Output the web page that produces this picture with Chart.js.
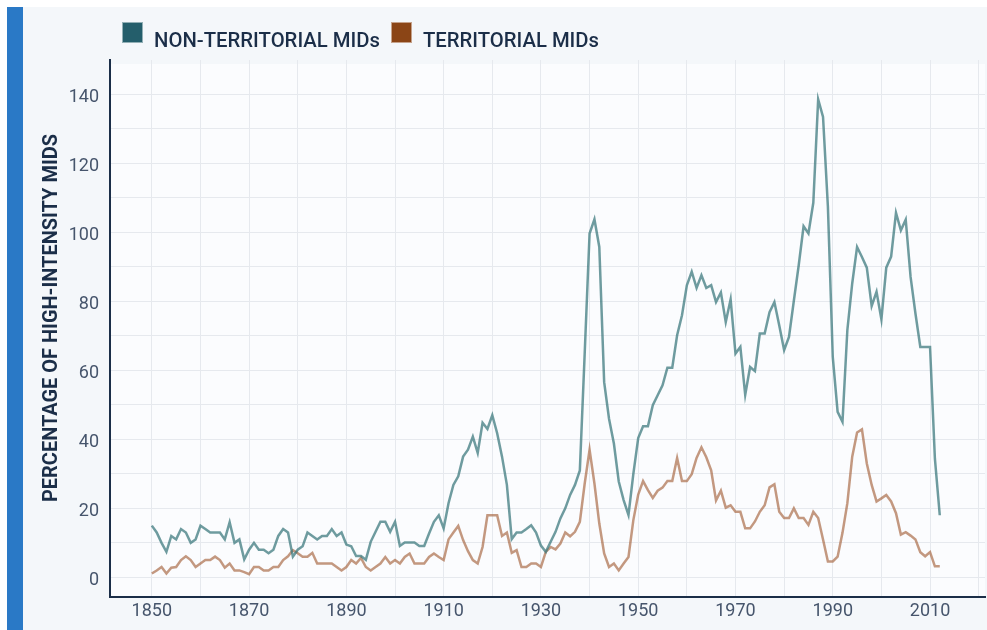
<!DOCTYPE html>
<html><head><meta charset="utf-8">
<style>html,body{margin:0;padding:0;background:#fff}canvas{display:block}</style>
<script src="https://cdn.jsdelivr.net/npm/chart.js@4"></script>
</head><body>
<canvas id="c" width="987" height="630"></canvas>
<script>
// Years 1850..2012 (one value per year)
const startYear = 1850;
const seriesLabels = ['NON-TERRITORIAL MIDs', 'TERRITORIAL MIDs'];
const nonTerritorial = [
  15, 13, 10, 7.4, 12, 11, 14, 13, 10, 11,            // 1850s
  15, 14, 13, 13, 13, 11, 16, 10, 11, 5.2,            // 1860s
  8, 10, 8, 8, 7, 8, 12, 14, 13, 6,                   // 1870s
  8, 9, 13, 12, 11, 12, 12, 14, 12, 13,               // 1880s
  9.5, 9, 6.2, 6.2, 5.1, 10.3, 13.2, 16.1, 16.1, 13.2, // 1890s
  16.1, 9.1, 10.1, 10.1, 10.1, 9.1, 9.1, 12.7, 16.1, 18, // 1900s
  14.2, 21.5, 26.8, 29.3, 35, 37, 40.8, 36.1, 44.8, 43, // 1910s
  47, 41.8, 35, 26.8, 11.1, 13, 13, 14, 15.1, 13,      // 1920s
  9.2, 7.4, 10.3, 13.2, 17.1, 20, 23.9, 26.8, 31, 65,  // 1930s
  99.7, 103.8, 95.8, 56.6, 46, 38.8, 27.8, 22.4, 18.1, 30, // 1940s
  40.4, 43.8, 43.8, 49.9, 52.8, 55.7, 60.8, 60.8, 70.2, 76, // 1950s
  84.7, 88.6, 83.9, 87.6, 83.9, 84.7, 79.8, 82.6, 74, 80.6, // 1960s
  64.9, 66.8, 52.9, 61, 59.8, 70.7, 70.7, 76.9, 79.8, 73, // 1970s
  65.9, 69.7, 80.2, 90.5, 101.8, 99.7, 108.6, 138.6, 133.5, 107.5, // 1980s
  63.9, 48, 45.1, 71.7, 85.2, 95.8, 92.9, 89.8, 78.7, 82.8, // 1990s
  74.8, 89.8, 93, 105.7, 100.6, 103.7, 87.1, 76.5, 66.8, 66.8, // 2000s
  66.8, 34.4, 18                                       // 2010-2012
];
const territorial = [
  1.1, 2, 3, 1.1, 2.8, 3, 5, 6.1, 5, 3,
  4, 5, 5, 6, 5, 2.8, 4, 2, 2, 1.5,
  0.9, 3, 3, 2, 2, 3, 3, 5, 6.1, 7.9,
  7, 6, 6, 7.1, 4, 4, 4, 4, 3, 2,
  3, 5, 4, 5.6, 3, 2, 3, 4, 5.9, 4,
  5, 4, 5.9, 6.9, 4, 4, 4, 5.9, 6.9, 5.9,
  5, 11, 13, 14.9, 10.8, 7.6, 5, 4, 8.8, 18,
  18, 18, 12, 13, 7.1, 7.9, 3, 3, 4, 4,
  3, 7.4, 8.8, 8.1, 9.8, 13, 11.9, 13.2, 16.1, 27.2,
  37, 27.2, 15.6, 6.9, 3, 4, 2, 4, 5.9, 16.6,
  24, 27.9, 25.3, 23, 25.1, 26, 27.9, 27.9, 34.6, 27.9,
  27.9, 29.9, 34.6, 37.7, 34.8, 31, 22.3, 25.1, 20.2, 20.9,
  19, 19, 14.2, 14.2, 16.2, 19, 20.9, 26.1, 27, 19,
  17.2, 17.2, 20, 17.2, 17.2, 15.2, 19, 17.2, 11, 4.6,
  4.6, 6, 12.9, 21.5, 35, 42, 42.9, 33, 26.8, 22,
  22.9, 23.9, 22, 18.6, 12.4, 13.1, 12.1, 11, 7.3, 6.1,
  7.3, 3.2, 3.2
];
const xGridYears = [1850,1860,1870,1880,1890,1900,1910,1920,1930,1940,1950,1960,1970,1980,1990,2000,2010,2020];
const xLabelYears = [1850,1870,1890,1910,1930,1950,1970,1990,2010];
const yGridValues = [0,10,20,30,40,50,60,70,80,90,100,110,120,130,140];
const yLabelValues = [0,20,40,60,80,100,120,140];
const yTitle = 'PERCENTAGE OF HIGH-INTENSITY MIDS';

const years = nonTerritorial.map((_, i) => startYear + i);
const toPoints = arr => arr.map((v, i) => ({x: years[i], y: v}));

const NAVY = '#1b2e48';
const TICK = '#46556c';

const bgPlugin = {
  id: 'bg',
  beforeDraw(chart) {
    const {ctx, chartArea: a} = chart;
    ctx.save();
    ctx.fillStyle = '#ffffff';
    ctx.fillRect(0, 0, chart.width, chart.height);
    ctx.fillStyle = '#f4f7fa';
    ctx.fillRect(7, 7, chart.width - 7, chart.height - 7);
    ctx.fillStyle = '#2a79c6';
    ctx.fillRect(7, 7, 16, chart.height - 7);
    ctx.fillStyle = '#fbfcfe';
    ctx.fillRect(a.left, a.top + 4, a.right - a.left, a.bottom - a.top - 4);
    ctx.restore();
  }
};

const textPlugin = {
  id: 'customText',
  afterDraw(chart) {
    const {ctx} = chart;
    const items = [
      {x: 122, color: '#245e6b', text: seriesLabels[0], w: 226},
      {x: 391, color: '#8b4516', text: seriesLabels[1], w: 176}
    ];
    ctx.save();
    items.forEach(it => {
      ctx.fillStyle = it.color;
      ctx.fillRect(it.x, 22, 21, 21);
      ctx.strokeStyle = 'rgba(255,255,255,0.5)';
      ctx.lineWidth = 1;
      ctx.strokeRect(it.x + 0.5, 22.5, 20, 20);
      ctx.font = '500 20px Roboto';
      ctx.fillStyle = NAVY;
      ctx.textBaseline = 'alphabetic';
      const mw = ctx.measureText(it.text).width;
      ctx.save();
      ctx.translate(it.x + 32, 47);
      ctx.scale(it.w / mw, 1);
      ctx.fillText(it.text, 0, 0);
      ctx.restore();
    });
    // y-axis title
    ctx.font = 'bold 20px Roboto';
    ctx.fillStyle = NAVY;
    ctx.textAlign = 'center';
    ctx.textBaseline = 'middle';
    const tw = ctx.measureText(yTitle).width;
    ctx.save();
    ctx.translate(51.5, 318);
    ctx.rotate(-Math.PI / 2);
    ctx.scale(368 / tw, 1);
    ctx.fillText(yTitle, 0, 0);
    ctx.restore();
    ctx.restore();
  }
};

new Chart(document.getElementById('c').getContext('2d'), {
  type: 'line',
  data: {
    datasets: [
      {label: seriesLabels[0], data: toPoints(nonTerritorial), borderColor: 'rgba(55,118,122,0.72)', borderWidth: 2.5, pointRadius: 0, tension: 0, fill: false},
      {label: seriesLabels[1], data: toPoints(territorial), borderColor: 'rgba(160,90,50,0.62)', borderWidth: 2.5, pointRadius: 0, tension: 0, fill: false}
    ]
  },
  options: {
    responsive: false,
    animation: false,
    devicePixelRatio: 1,
    layout: {padding: {left: 10, top: 60, right: 2, bottom: 0}},
    plugins: {legend: {display: false}, tooltip: {enabled: false}},
    scales: {
      x: {
        type: 'linear', min: 1841.4, max: 2021.3,
        afterBuildTicks(s) { s.ticks = xGridYears.map(v => ({value: v})); },
        afterFit(s) { s.height = 33; },
        ticks: {autoSkip: false, maxRotation: 0, padding: 4, color: TICK,
          font: {family: 'Roboto', size: 18},
          callback: v => xLabelYears.includes(v) ? String(v) : ''},
        grid: {color: '#e6e9ee', drawTicks: false, lineWidth: 1},
        border: {color: NAVY, width: 2}
      },
      y: {
        min: -5.7, max: 150,
        afterBuildTicks(s) { s.ticks = yGridValues.map(v => ({value: v})); },
        afterFit(s) { s.width = 100; },
        ticks: {padding: 11, labelOffset: 3, color: TICK, font: {family: 'Roboto', size: 18},
          callback: v => yLabelValues.includes(v) ? String(v) : ''},
        grid: {color: '#e6e9ee', drawTicks: false, lineWidth: 1},
        border: {color: NAVY, width: 2}
      }
    }
  },
  plugins: [bgPlugin, textPlugin]
});
</script>
</body></html>
